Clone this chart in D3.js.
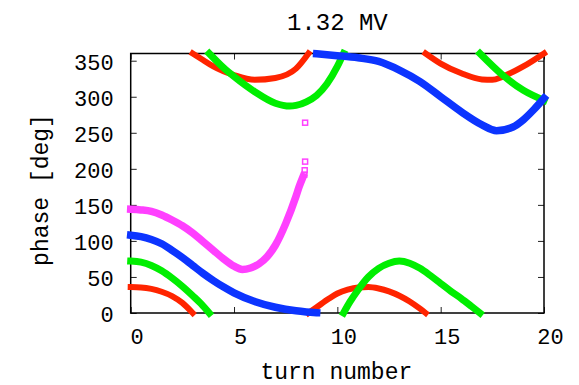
<!DOCTYPE html>
<html>
<head>
<meta charset="utf-8">
<script src="https://cdn.jsdelivr.net/npm/d3@7"></script>
<style>
  html, body { margin: 0; padding: 0; background: #fff; }
  svg { display: block; }
  text { font-family: "Liberation Mono", "DejaVu Sans Mono", monospace; fill: #000; }
</style>
</head>
<body>
<svg id="chart" width="579" height="385"></svg>
<script>
// ---- data (turn number, phase in degrees, as plotted 0..360) ----
const title = "1.32 MV";
const xLabel = "turn number";
const yLabel = "phase [deg]";
const xTicks = [0, 5, 10, 15, 20];
const yTicks = [0, 50, 100, 150, 200, 250, 300, 350];

const redT     = [0, 0.5, 1, 1.5, 2, 2.5, 3.0, 3.0, 3.5, 4, 5, 6, 7, 8, 8.6, 8.6, 9, 9.6, 10, 10.5, 11, 11.5, 12, 12.5, 13, 13.5, 14, 14.27, 14.27, 15, 16, 17, 17.5, 18, 19, 20];
const redPhase = [36, 35.5, 33.5, 29.5, 23.5, 14, 0, 360, 351, 342, 330, 323.5, 326, 339, 360, 0, 8, 20, 27, 32.5, 35.5, 36, 34, 30, 24, 16, 6, 0, 360, 346, 332.5, 324, 323.5, 328, 342, 360];

const greenT     = [0, 0.5, 1, 1.5, 2, 2.5, 3, 3.4, 3.8, 3.8, 4.5, 5, 6, 7, 7.7, 8, 8.5, 9, 9.5, 10, 10.3, 10.3, 10.6, 11, 11.5, 12, 12.5, 13, 13.5, 14, 14.5, 15, 15.5, 16, 16.5, 16.9, 16.9, 18, 19, 20];
const greenPhase = [72, 70.5, 66, 58.5, 48.5, 37, 24, 13, 0, 360, 340, 328, 307, 291, 287, 288, 293, 302, 318, 342, 360, 0, 15, 32, 50, 62, 69, 72, 69, 62, 52, 41, 30, 20, 9, 0, 360, 330, 309, 295];

const blueT     = [0, 0.5, 1, 1.5, 2, 2.5, 3, 3.5, 4, 4.5, 5, 6, 7, 8, 8.5, 9, 9, 10, 11, 12, 13, 14, 15, 16, 17, 17.7, 18.5, 19, 19.5, 20];
const bluePhase = [108, 106, 102, 96, 87, 77, 66, 55, 45, 36, 28, 16, 8, 3, 1.5, 0.5, 359.5, 357, 354, 349, 337, 321, 300, 279, 261, 253, 258, 268, 282, 298];

const magentaT     = [0, 0.5, 1, 1.5, 2, 2.5, 3, 3.5, 4, 4.5, 5, 5.4, 5.8, 6.2, 6.6, 7, 7.5, 8, 8.15, 8.34];
const magentaPhase = [144, 143, 141, 136, 129, 121, 111, 99, 87, 75, 65, 60.5, 62.5, 68, 78, 94, 124, 162, 175, 189];

// last (lost) magenta points, drawn as open squares
const magentaLostT     = [8.40, 8.42, 8.44, 8.44];
const magentaLostPhase = [192, 198, 210, 264];

const seriesColors = ["#ff2400", "#00ee00", "#0c34ff", "#ff40ff"];
const seriesWidths = [6, 7, 7.5, 7.5];

// ---- layout ----
const svg = d3.select("#chart");
const W = 579, H = 385;
const margin = { left: 130.7, right: W - 544, top: 53.5, bottom: H - 313 };

const x = d3.scaleLinear().domain([0, 20]).range([margin.left, W - margin.right]);
const y = d3.scaleLinear().domain([0, 360]).range([H - margin.bottom, margin.top]);

// split a series into segments where the phase wraps around
function segments(ts, ps) {
  const segs = [];
  let cur = [];
  for (let i = 0; i < ts.length; i++) {
    if (i > 0 && Math.abs(ps[i] - ps[i - 1]) > 180) { segs.push(cur); cur = []; }
    cur.push([ts[i], ps[i]]);
  }
  if (cur.length) segs.push(cur);
  return segs;
}

const line = d3.line()
  .x(d => x(d[0]))
  .y(d => y(d[1]))
  .curve(d3.curveMonotoneX);

const seriesData = [
  [redT, redPhase],
  [greenT, greenPhase],
  [blueT, bluePhase],
  [magentaT, magentaPhase]
];

// ---- axes ----
const tickFont = 22;
const xAxis = d3.axisBottom(x).tickValues(xTicks).tickSize(-6).tickPadding(15);
const gx = svg.append("g").attr("transform", `translate(0,${y(0)})`).call(xAxis);
gx.selectAll("text").attr("dx", 6);

const yAxis = d3.axisLeft(y).tickValues(yTicks).tickSize(-6).tickPadding(17);
const gy = svg.append("g").attr("transform", `translate(${x(0)},0)`).call(yAxis);
gy.selectAll("text").attr("dy", "0.4em");

const gxt = svg.append("g").attr("transform", `translate(0,${y(360)})`)
  .call(d3.axisTop(x).tickValues(xTicks).tickSize(-6).tickFormat(""));
const gyr = svg.append("g").attr("transform", `translate(${x(20)},0)`)
  .call(d3.axisRight(y).tickValues(yTicks).tickSize(-6).tickFormat(""));

[gx, gy, gxt, gyr].forEach(g => {
  g.select(".domain").remove();
  g.selectAll("line").attr("stroke", "#222").attr("stroke-width", 1);
  g.selectAll("text")
    .style("font-family", '"Liberation Mono", monospace')
    .style("font-size", tickFont + "px")
    .attr("fill", "#000");
});

// frame
svg.append("rect")
  .attr("x", x(0)).attr("y", y(360))
  .attr("width", x(20) - x(0)).attr("height", y(0) - y(360))
  .attr("fill", "none").attr("stroke", "#000").attr("stroke-width", 1.5);

// ---- data marks ----
const gData = svg.append("g");
seriesData.forEach(([ts, ps], i) => {
  gData.selectAll(null)
    .data(segments(ts, ps))
    .enter().append("path")
    .attr("d", line)
    .attr("fill", "none")
    .attr("stroke", seriesColors[i])
    .attr("stroke-width", seriesWidths[i])
    .attr("stroke-linecap", "square");
});

gData.selectAll(null)
  .data(magentaLostT.map((t, i) => [t, magentaLostPhase[i]]))
  .enter().append("rect")
  .attr("x", d => x(d[0]) - 2.5)
  .attr("y", d => y(d[1]) - 2.5)
  .attr("width", 5)
  .attr("height", 5)
  .attr("fill", "none")
  .attr("stroke", seriesColors[3])
  .attr("stroke-width", 1.5);

// ---- titles ----
svg.append("text")
  .attr("x", (x(0) + x(20)) / 2).attr("y", 29.5)
  .attr("text-anchor", "middle")
  .style("font-size", "24px")
  .text(title);

svg.append("text")
  .attr("x", (x(0) + x(20)) / 2 - 1).attr("y", 379)
  .attr("text-anchor", "middle")
  .style("font-size", "23px")
  .text(xLabel);

svg.append("text")
  .attr("transform", "translate(48,190) rotate(-90)")
  .attr("text-anchor", "middle")
  .style("font-size", "23px")
  .text(yLabel);
</script>
</body>
</html>
